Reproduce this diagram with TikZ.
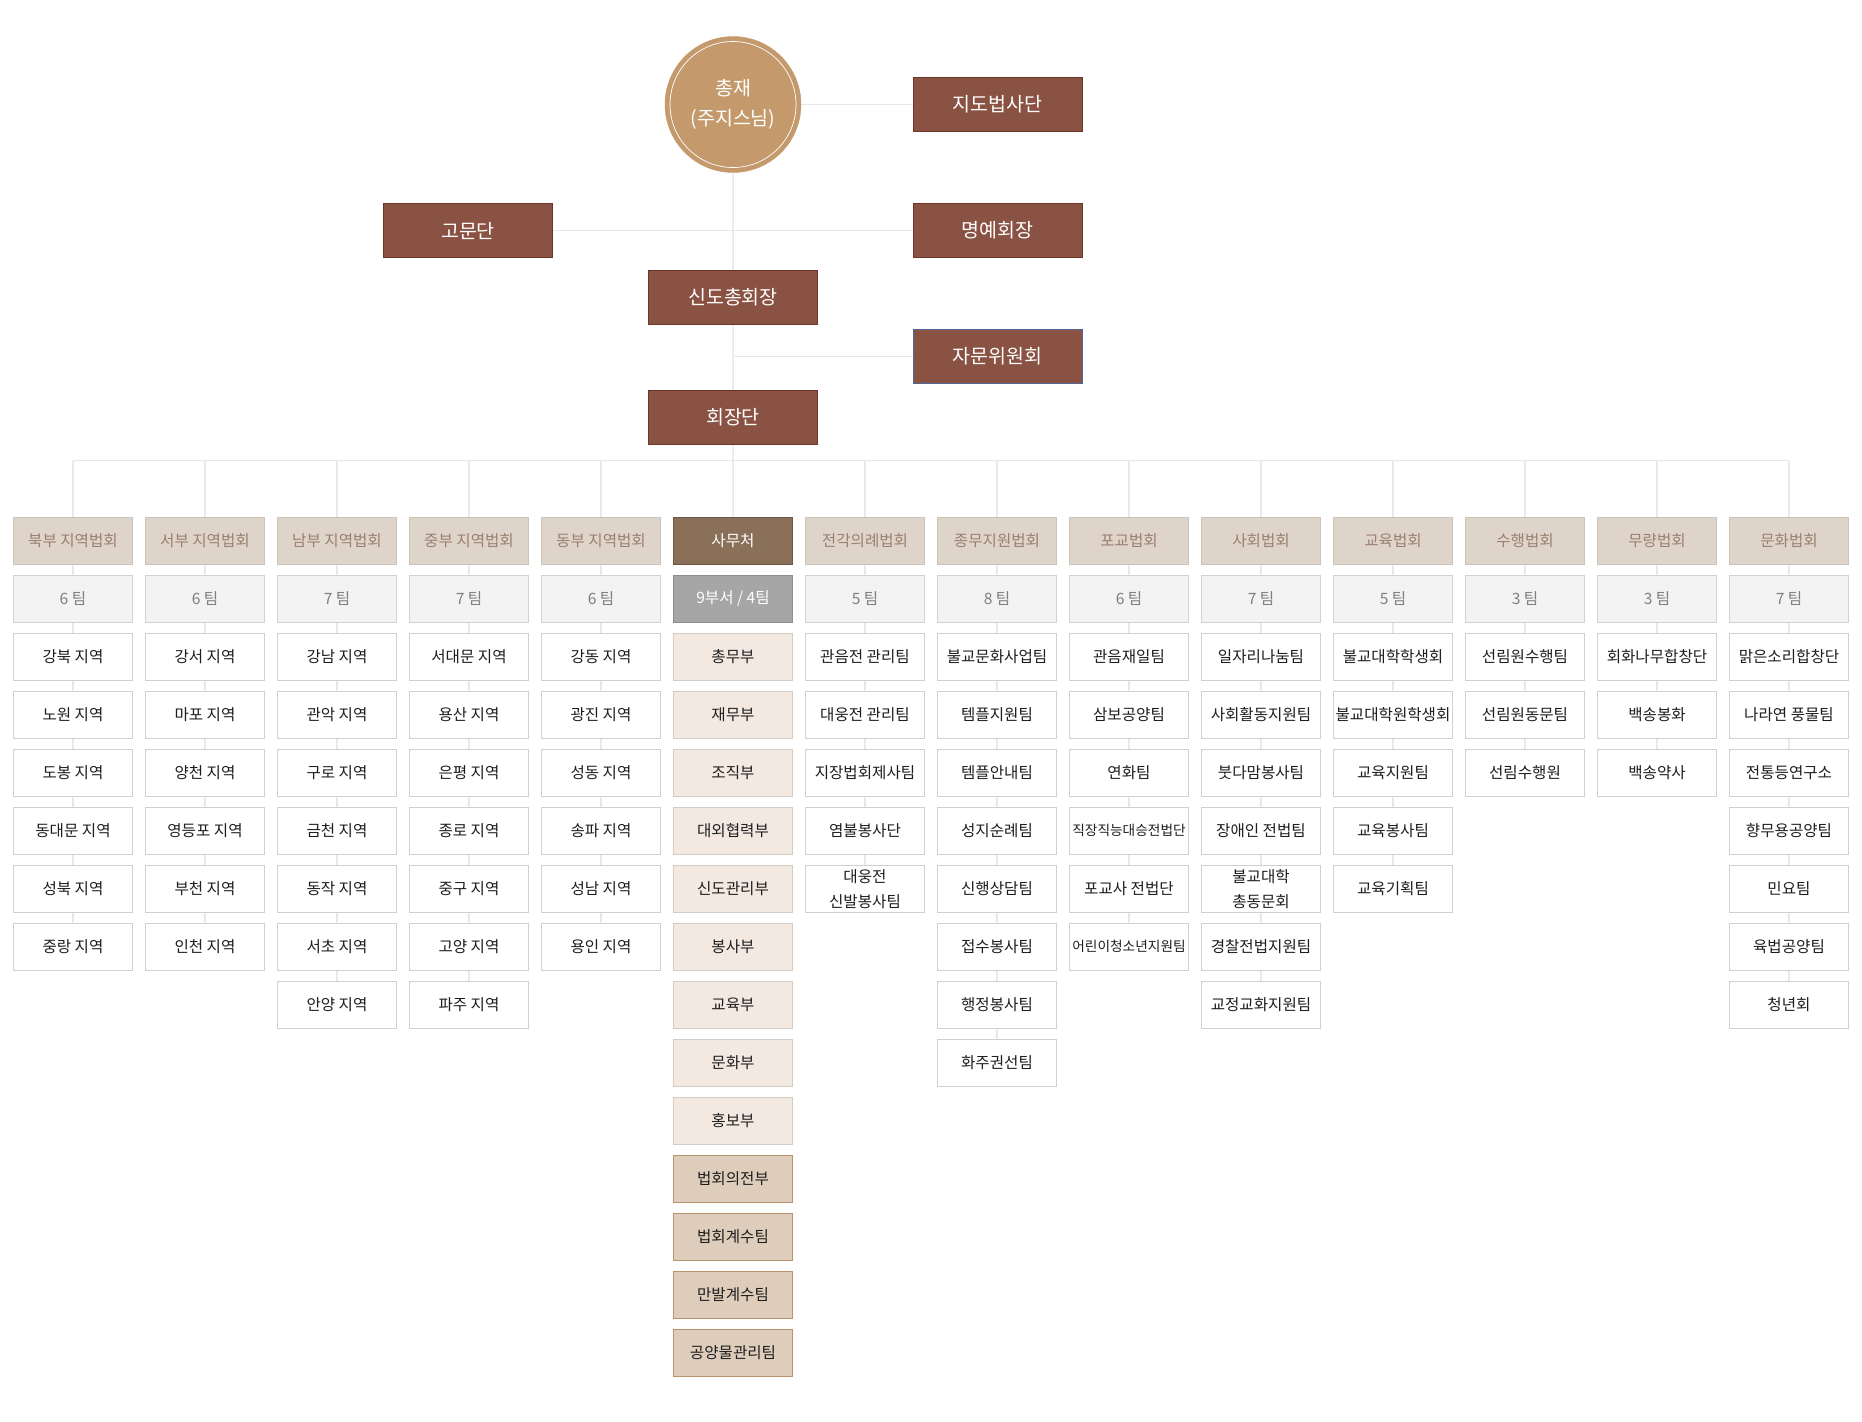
\documentclass[tikz,border=0pt]{standalone}
\usepackage{fontspec}
\setmainfont{Noto Sans CJK KR}
\usepackage{xcolor}
\usepackage{tikz}
\usetikzlibrary{positioning,backgrounds}

\definecolor{topfill}{HTML}{8A5243}
\definecolor{topedge}{HTML}{6B3527}
\definecolor{jamunedge}{HTML}{4F6A9A}
\definecolor{circfill}{HTML}{C49A6C}
\definecolor{headfill}{HTML}{DFD4CA}
\definecolor{headedge}{HTML}{CBC2B9}
\definecolor{headtext}{HTML}{9A8070}
\definecolor{teamfill}{HTML}{F3F3F3}
\definecolor{teamedge}{HTML}{D2D2D2}
\definecolor{teamtext}{HTML}{7F7F7F}
\definecolor{unitedge}{HTML}{D0D0D0}
\definecolor{unittext}{HTML}{1E1E1E}
\definecolor{samufill}{HTML}{8B7059}
\definecolor{samuedge}{HTML}{6F5745}
\definecolor{grayfill}{HTML}{A6A6A6}
\definecolor{grayedge}{HTML}{8E8E8E}
\definecolor{deptfill}{HTML}{F3E9E1}
\definecolor{deptedge}{HTML}{D3CDC8}
\definecolor{deptdkfill}{HTML}{DFCDBB}
\definecolor{deptdkedge}{HTML}{B8946E}
\definecolor{linkgray}{HTML}{E8E8E8}

\begin{document}
\begin{tikzpicture}[
  x=1pt, y=-1pt,
  every node/.style={inner sep=0pt, outer sep=0pt, align=center},
  topbox/.style={draw=topedge, fill=topfill, text=white, minimum width=169pt,
                 minimum height=54pt, font=\fontsize{19.5}{24}\selectfont},
  hdbox/.style={draw=headedge, fill=headfill, text=headtext, minimum width=119.3pt,
                minimum height=47pt, font=\fontsize{15.6}{25}\selectfont},
  teambox/.style={hdbox, draw=teamedge, fill=teamfill, text=teamtext},
  unitbox/.style={hdbox, draw=unitedge, fill=white, text=unittext},
  deptbox/.style={unitbox, draw=deptedge, fill=deptfill},
  deptdkbox/.style={unitbox, draw=deptdkedge, fill=deptdkfill},
  tinytext/.style={font=\fontsize{13.7}{16}\selectfont},
  link/.style={draw=linkgray, line width=1.5pt},
  node distance=11pt and 12.7pt
]
  \useasboundingbox (0,0) rectangle (1862,1421);

  % Top of the chart
  \node[circle, fill=circfill, draw=circfill, minimum size=136pt, text=white,
        font=\fontsize{19.5}{30}\selectfont] (chong) at (733,104.5) {총재\\(주지스님)};
  \draw[white, line width=0.7pt] (chong.center) circle (63);
  \node[topbox] (jido)   at (997.5,104.5) {지도법사단};
  \node[topbox] (gomun)  at (468,230.5)   {고문단};
  \node[topbox] (myeong) at (997.5,230.5) {명예회장};
  \node[topbox] (sindo)  at (733,296.8)   {신도총회장};
  \node[topbox, draw=jamunedge] (jamun) at (997.5,356.3) {자문위원회};
  \node[topbox] (hoe)    at (733,417.2)   {회장단};
  \coordinate (bus) at (733,460.5);

  % Headers
  \node[hdbox] (buk) at (73,540.8) {북부 지역법회};
  \node[hdbox, right=of buk]   (seo)   {서부 지역법회};
  \node[hdbox, right=of seo]   (nam)   {남부 지역법회};
  \node[hdbox, right=of nam]   (jung)  {중부 지역법회};
  \node[hdbox, right=of jung]  (dong)  {동부 지역법회};
  \node[hdbox, right=of dong, draw=samuedge, fill=samufill, text=white] (samu) {사무처};
  \node[hdbox, right=of samu]  (jeon)  {전각의례법회};
  \node[hdbox, right=of jeon]  (jong)  {종무지원법회};
  \node[hdbox, right=of jong]  (pogyo) {포교법회};
  \node[hdbox, right=of pogyo] (sahoe) {사회법회};
  \node[hdbox, right=of sahoe] (gyo)   {교육법회};
  \node[hdbox, right=of gyo]   (suh)   {수행법회};
  \node[hdbox, right=of suh]   (mury)  {무량법회};
  \node[hdbox, right=of mury]  (munh)  {문화법회};

  % Team counts
  \node[teambox, below=of buk]   (buk0)   {6 팀};
  \node[teambox, below=of seo]   (seo0)   {6 팀};
  \node[teambox, below=of nam]   (nam0)   {7 팀};
  \node[teambox, below=of jung]  (jung0)  {7 팀};
  \node[teambox, below=of dong]  (dong0)  {6 팀};
  \node[teambox, below=of samu, draw=grayedge, fill=grayfill, text=white] (samu0) {9부서 / 4팀};
  \node[teambox, below=of jeon]  (jeon0)  {5 팀};
  \node[teambox, below=of jong]  (jong0)  {8 팀};
  \node[teambox, below=of pogyo] (pogyo0) {6 팀};
  \node[teambox, below=of sahoe] (sahoe0) {7 팀};
  \node[teambox, below=of gyo]   (gyo0)   {5 팀};
  \node[teambox, below=of suh]   (suh0)   {3 팀};
  \node[teambox, below=of mury]  (mury0)  {3 팀};
  \node[teambox, below=of munh]  (munh0)  {7 팀};

  % 북부
  \node[unitbox, below=of buk0] (buk1) {강북 지역};
  \node[unitbox, below=of buk1] (buk2) {노원 지역};
  \node[unitbox, below=of buk2] (buk3) {도봉 지역};
  \node[unitbox, below=of buk3] (buk4) {동대문 지역};
  \node[unitbox, below=of buk4] (buk5) {성북 지역};
  \node[unitbox, below=of buk5] (buk6) {중랑 지역};
  % 서부
  \node[unitbox, below=of seo0] (seo1) {강서 지역};
  \node[unitbox, below=of seo1] (seo2) {마포 지역};
  \node[unitbox, below=of seo2] (seo3) {양천 지역};
  \node[unitbox, below=of seo3] (seo4) {영등포 지역};
  \node[unitbox, below=of seo4] (seo5) {부천 지역};
  \node[unitbox, below=of seo5] (seo6) {인천 지역};
  % 남부
  \node[unitbox, below=of nam0] (nam1) {강남 지역};
  \node[unitbox, below=of nam1] (nam2) {관악 지역};
  \node[unitbox, below=of nam2] (nam3) {구로 지역};
  \node[unitbox, below=of nam3] (nam4) {금천 지역};
  \node[unitbox, below=of nam4] (nam5) {동작 지역};
  \node[unitbox, below=of nam5] (nam6) {서초 지역};
  \node[unitbox, below=of nam6] (nam7) {안양 지역};
  % 중부
  \node[unitbox, below=of jung0] (jung1) {서대문 지역};
  \node[unitbox, below=of jung1] (jung2) {용산 지역};
  \node[unitbox, below=of jung2] (jung3) {은평 지역};
  \node[unitbox, below=of jung3] (jung4) {종로 지역};
  \node[unitbox, below=of jung4] (jung5) {중구 지역};
  \node[unitbox, below=of jung5] (jung6) {고양 지역};
  \node[unitbox, below=of jung6] (jung7) {파주 지역};
  % 동부
  \node[unitbox, below=of dong0] (dong1) {강동 지역};
  \node[unitbox, below=of dong1] (dong2) {광진 지역};
  \node[unitbox, below=of dong2] (dong3) {성동 지역};
  \node[unitbox, below=of dong3] (dong4) {송파 지역};
  \node[unitbox, below=of dong4] (dong5) {성남 지역};
  \node[unitbox, below=of dong5] (dong6) {용인 지역};
  % 사무처
  \node[deptbox, below=of samu0]  (samu1)  {총무부};
  \node[deptbox, below=of samu1]  (samu2)  {재무부};
  \node[deptbox, below=of samu2]  (samu3)  {조직부};
  \node[deptbox, below=of samu3]  (samu4)  {대외협력부};
  \node[deptbox, below=of samu4]  (samu5)  {신도관리부};
  \node[deptbox, below=of samu5]  (samu6)  {봉사부};
  \node[deptbox, below=of samu6]  (samu7)  {교육부};
  \node[deptbox, below=of samu7]  (samu8)  {문화부};
  \node[deptbox, below=of samu8]  (samu9)  {홍보부};
  \node[deptdkbox, below=of samu9]  (samu10) {법회의전부};
  \node[deptdkbox, below=of samu10] (samu11) {법회계수팀};
  \node[deptdkbox, below=of samu11] (samu12) {만발계수팀};
  \node[deptdkbox, below=of samu12] (samu13) {공양물관리팀};
  % 전각의례
  \node[unitbox, below=of jeon0] (jeon1) {관음전 관리팀};
  \node[unitbox, below=of jeon1] (jeon2) {대웅전 관리팀};
  \node[unitbox, below=of jeon2] (jeon3) {지장법회제사팀};
  \node[unitbox, below=of jeon3] (jeon4) {염불봉사단};
  \node[unitbox, below=of jeon4] (jeon5) {대웅전\\신발봉사팀};
  % 종무지원
  \node[unitbox, below=of jong0] (jong1) {불교문화사업팀};
  \node[unitbox, below=of jong1] (jong2) {템플지원팀};
  \node[unitbox, below=of jong2] (jong3) {템플안내팀};
  \node[unitbox, below=of jong3] (jong4) {성지순례팀};
  \node[unitbox, below=of jong4] (jong5) {신행상담팀};
  \node[unitbox, below=of jong5] (jong6) {접수봉사팀};
  \node[unitbox, below=of jong6] (jong7) {행정봉사팀};
  \node[unitbox, below=of jong7] (jong8) {화주권선팀};
  % 포교
  \node[unitbox, below=of pogyo0] (pogyo1) {관음재일팀};
  \node[unitbox, below=of pogyo1] (pogyo2) {삼보공양팀};
  \node[unitbox, below=of pogyo2] (pogyo3) {연화팀};
  \node[unitbox, tinytext, below=of pogyo3] (pogyo4) {직장직능대승전법단};
  \node[unitbox, below=of pogyo4] (pogyo5) {포교사 전법단};
  \node[unitbox, tinytext, below=of pogyo5] (pogyo6) {어린이청소년지원팀};
  % 사회
  \node[unitbox, below=of sahoe0] (sahoe1) {일자리나눔팀};
  \node[unitbox, below=of sahoe1] (sahoe2) {사회활동지원팀};
  \node[unitbox, below=of sahoe2] (sahoe3) {붓다맘봉사팀};
  \node[unitbox, below=of sahoe3] (sahoe4) {장애인 전법팀};
  \node[unitbox, below=of sahoe4] (sahoe5) {불교대학\\총동문회};
  \node[unitbox, below=of sahoe5] (sahoe6) {경찰전법지원팀};
  \node[unitbox, below=of sahoe6] (sahoe7) {교정교화지원팀};
  % 교육
  \node[unitbox, below=of gyo0] (gyo1) {불교대학학생회};
  \node[unitbox, below=of gyo1] (gyo2) {불교대학원학생회};
  \node[unitbox, below=of gyo2] (gyo3) {교육지원팀};
  \node[unitbox, below=of gyo3] (gyo4) {교육봉사팀};
  \node[unitbox, below=of gyo4] (gyo5) {교육기획팀};
  % 수행
  \node[unitbox, below=of suh0] (suh1) {선림원수행팀};
  \node[unitbox, below=of suh1] (suh2) {선림원동문팀};
  \node[unitbox, below=of suh2] (suh3) {선림수행원};
  % 무량
  \node[unitbox, below=of mury0] (mury1) {회화나무합창단};
  \node[unitbox, below=of mury1] (mury2) {백송봉화};
  \node[unitbox, below=of mury2] (mury3) {백송약사};
  % 문화
  \node[unitbox, below=of munh0] (munh1) {맑은소리합창단};
  \node[unitbox, below=of munh1] (munh2) {나라연 풍물팀};
  \node[unitbox, below=of munh2] (munh3) {전통등연구소};
  \node[unitbox, below=of munh3] (munh4) {향무용공양팀};
  \node[unitbox, below=of munh4] (munh5) {민요팀};
  \node[unitbox, below=of munh5] (munh6) {육법공양팀};
  \node[unitbox, below=of munh6] (munh7) {청년회};

  % Connectors
  \begin{scope}[on background layer]
    \draw[link] (chong) -- (jido);
    \draw[link] (chong) -- (samu);
    \draw[link] (gomun) -- (myeong);
    \draw[link] (jamun) -- (jamun -| chong);
    \draw[link] (buk |- bus) -- (munh |- bus);
    \draw[link] (buk |- bus)   -- (buk6);
    \draw[link] (seo |- bus)   -- (seo6);
    \draw[link] (nam |- bus)   -- (nam7);
    \draw[link] (jung |- bus)  -- (jung7);
    \draw[link] (dong |- bus)  -- (dong6);
    \draw[link] (jeon |- bus)  -- (jeon5);
    \draw[link] (jong |- bus)  -- (jong8);
    \draw[link] (pogyo |- bus) -- (pogyo6);
    \draw[link] (sahoe |- bus) -- (sahoe7);
    \draw[link] (gyo |- bus)   -- (gyo5);
    \draw[link] (suh |- bus)   -- (suh3);
    \draw[link] (mury |- bus)  -- (mury3);
    \draw[link] (munh |- bus)  -- (munh7);
  \end{scope}
\end{tikzpicture}
\end{document}
